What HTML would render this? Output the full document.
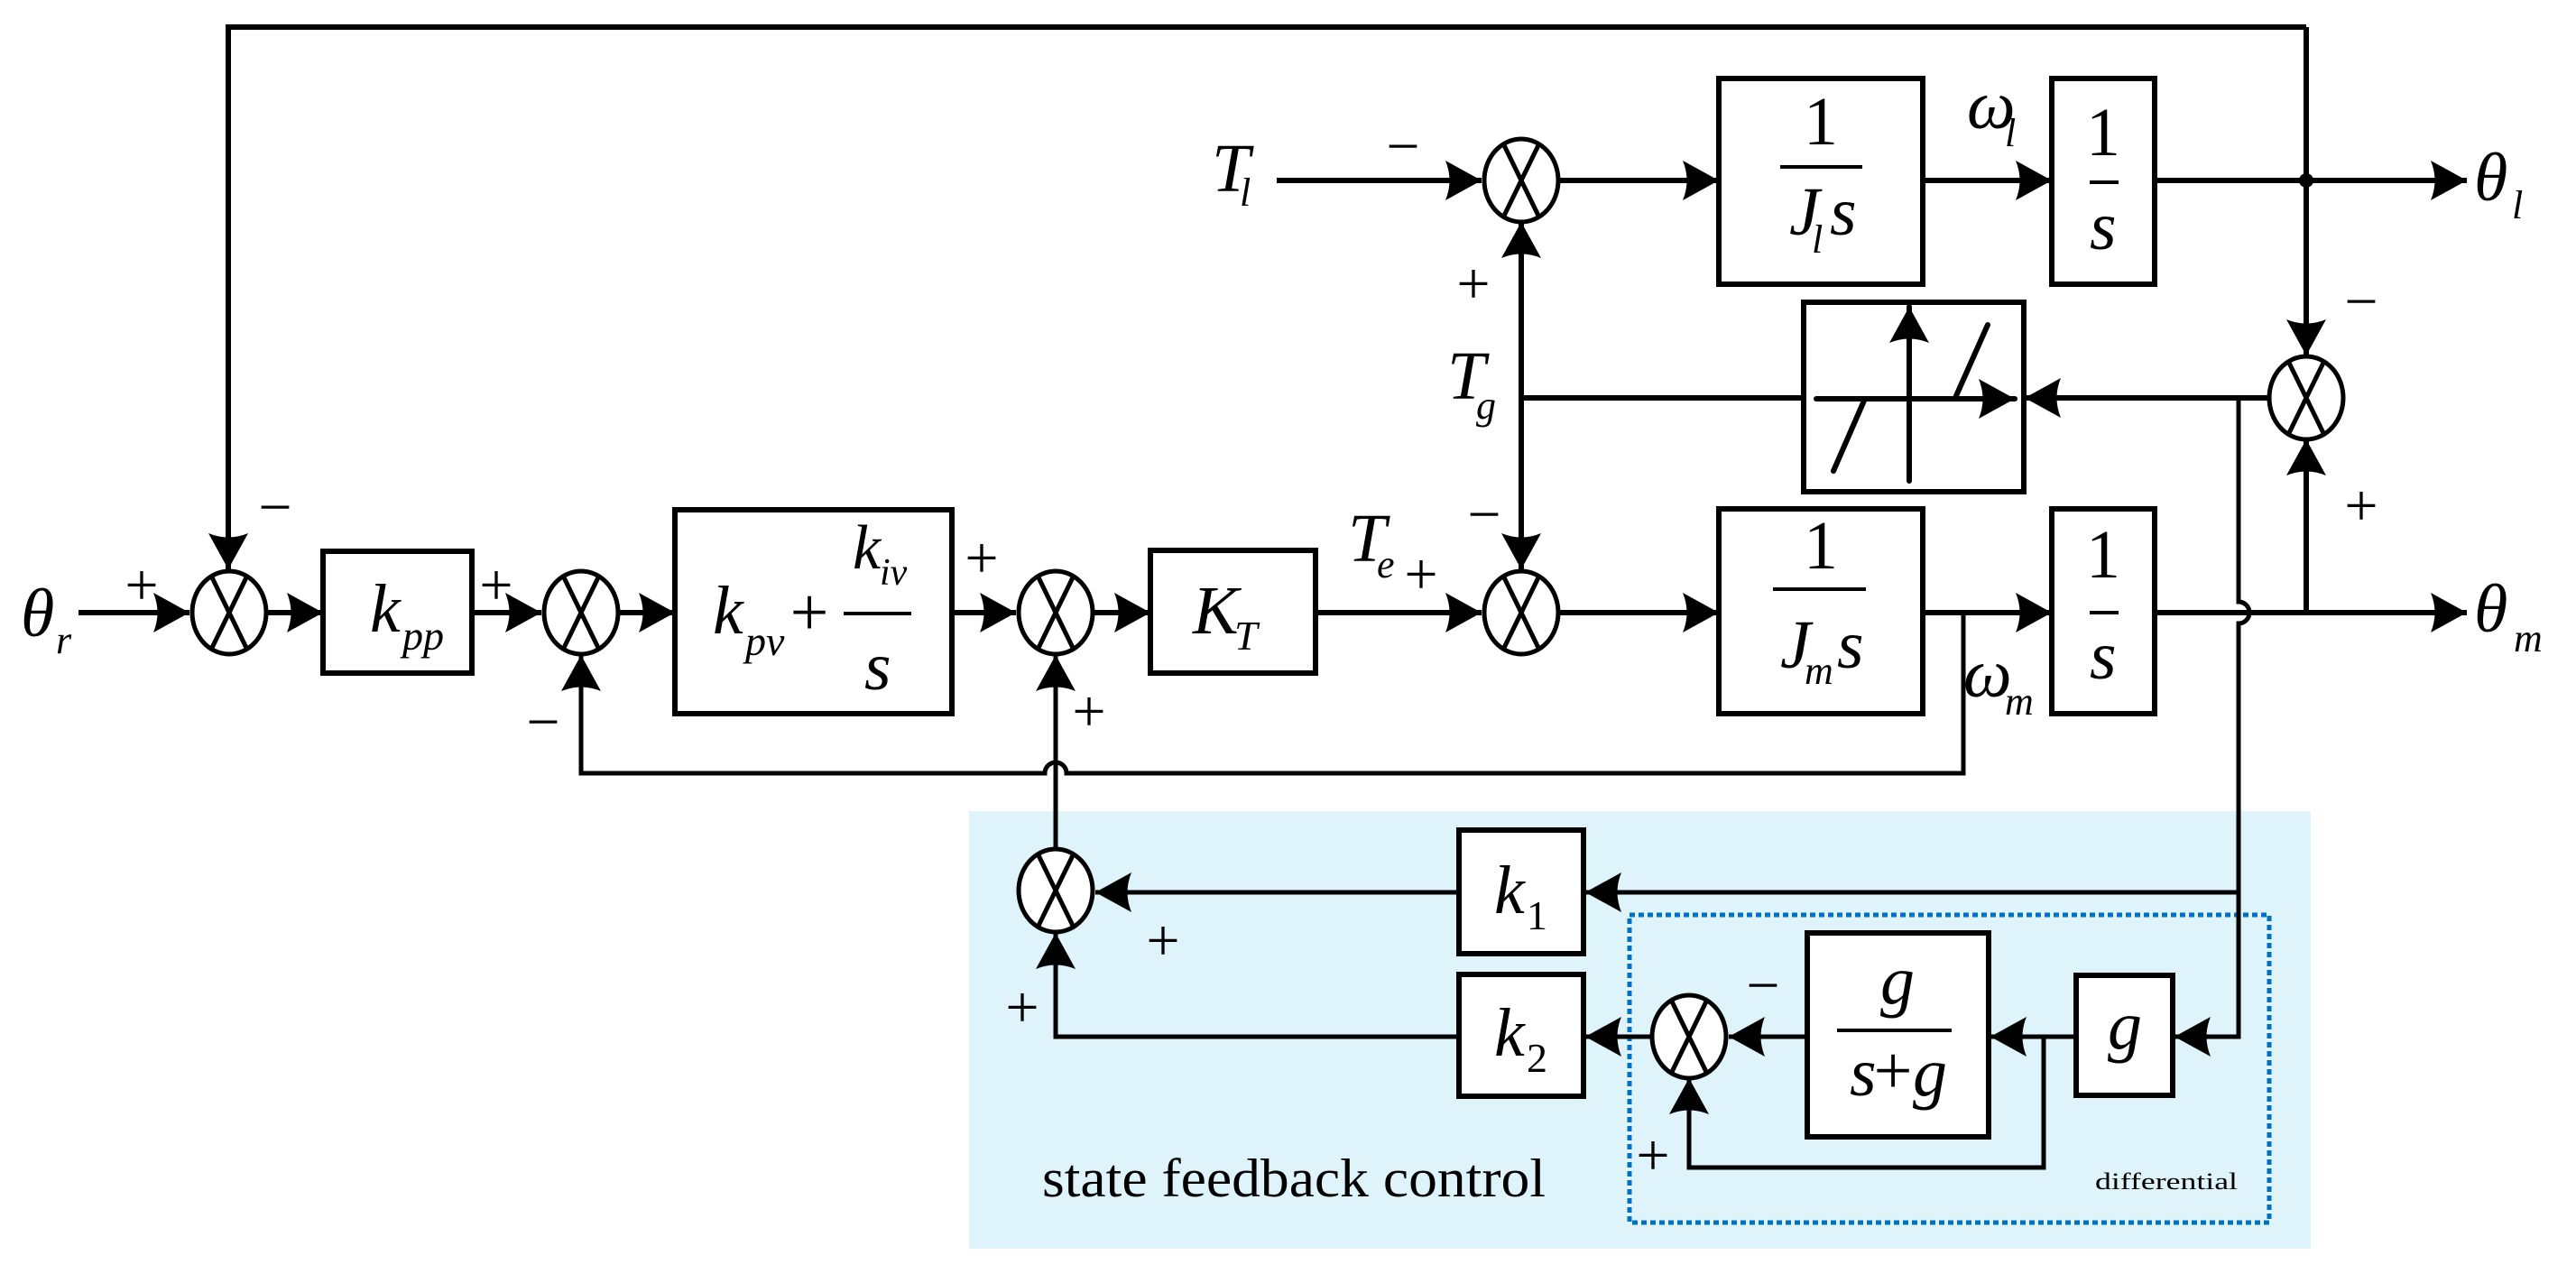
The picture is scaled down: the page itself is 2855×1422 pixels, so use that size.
<!DOCTYPE html>
<html><head><meta charset="utf-8"><style>
html,body{margin:0;padding:0;background:#fff;}
svg{display:block;}
.m{font-family:"Liberation Serif",serif;font-style:italic;fill:#000;}
.r{font-family:"Liberation Serif",serif;fill:#000;}
</style></head><body>
<svg width="2855" height="1422" viewBox="0 0 2855 1422" xmlns="http://www.w3.org/2000/svg">
<defs>
<marker id="a" markerUnits="userSpaceOnUse" markerWidth="46" markerHeight="46" refX="40" refY="22" orient="auto">
<path d="M0,0 L40,22 L0,44 Q9,22 0,0 Z" fill="#000"/>
</marker>
</defs>
<rect x="1074" y="899" width="1487" height="485" fill="#dff3fb"/>
<rect x="1806" y="1014" width="709" height="341" fill="none" stroke="#0070c0" stroke-width="5" stroke-dasharray="6,4"/>

<g fill="none" stroke="#000" stroke-width="6">
<path d="M87,679 H210" marker-end="url(#a)"/>
<path d="M296,679 H358" marker-end="url(#a)"/>
<path d="M523,679 H600" marker-end="url(#a)"/>
<path d="M686,679 H748" marker-end="url(#a)"/>
<path d="M1055,679 H1126" marker-end="url(#a)"/>
<path d="M1212,679 H1275" marker-end="url(#a)"/>
<path d="M1458,679 H1642" marker-end="url(#a)"/>
<path d="M1728,679 H1905" marker-end="url(#a)"/>
<path d="M2131,679 H2274" marker-end="url(#a)"/>
<path d="M2388,679 H2734" marker-end="url(#a)"/>
<path d="M1415,200 H1642" marker-end="url(#a)"/>
<path d="M1728,200 H1905" marker-end="url(#a)"/>
<path d="M2131,200 H2274" marker-end="url(#a)"/>
<path d="M2388,200 H2734" marker-end="url(#a)"/>
<path d="M2556,30 H253 V631" marker-end="url(#a)"/>
<path d="M2556,30 V394" marker-end="url(#a)"/>
<path d="M2556,679 V487" marker-end="url(#a)"/>
<path d="M1686,441 V246" marker-end="url(#a)"/>
<path d="M1686,441 V631" marker-end="url(#a)"/>
<path d="M1686,441 H2000"/>
<path d="M2514,441 H2244" marker-end="url(#a)"/>
</g>
<g fill="none" stroke="#000" stroke-width="5">
<path d="M2176,679 V857 H1182 A12,12 0 0 0 1158,857 H644 V726" marker-end="url(#a)"/>
<path d="M1170,941 V726" marker-end="url(#a)"/>
<path d="M2481,441 V667 A12,12 0 0 1 2481,691 V1149 H2410" marker-end="url(#a)"/>
<path d="M2481,989 H1757" marker-end="url(#a)"/>
<path d="M1617,989 H1214" marker-end="url(#a)"/>
<path d="M1617,1149 H1170 V1034" marker-end="url(#a)"/>
<path d="M2301,1149 H2206" marker-end="url(#a)"/>
<path d="M2265,1149 V1294 H1872 V1195" marker-end="url(#a)"/>
<path d="M2003,1149 H1916" marker-end="url(#a)"/>
<path d="M1830,1149 H1757" marker-end="url(#a)"/>
</g>

<g fill="#fff" stroke="#000" stroke-width="6">
<rect x="358" y="611" width="165" height="135"/>
<rect x="748" y="565" width="307" height="226"/>
<rect x="1275" y="610" width="183" height="136"/>
<rect x="1905" y="87" width="226" height="228"/>
<rect x="2274" y="87" width="114" height="228"/>
<rect x="1905" y="564" width="226" height="227"/>
<rect x="2274" y="564" width="114" height="227"/>
<rect x="1999" y="335" width="244" height="210"/>
<rect x="1617" y="920" width="138" height="137"/>
<rect x="1617" y="1080" width="138" height="135"/>
<rect x="2003" y="1034" width="201" height="226"/>
<rect x="2301" y="1081" width="107" height="133"/>
</g>
<g fill="none" stroke="#000" stroke-width="6" stroke-linecap="round">
<path d="M2013,442 H2233" marker-end="url(#a)"/>
<path d="M2116,533 V340" marker-end="url(#a)"/>
<path d="M2032,522 L2066,444"/>
<path d="M2167,441 L2203,360"/>
</g>
<path d="M1950,441 H1999" stroke="#000" stroke-width="6"/>

<g fill="#fff" stroke="#000" stroke-width="5">
<g transform="translate(254,679)"><ellipse rx="41" ry="46"/><path d="M-20,-41 L20,41 M20,-41 L-20,41"/></g>
<g transform="translate(644,679)"><ellipse rx="41" ry="46"/><path d="M-20,-41 L20,41 M20,-41 L-20,41"/></g>
<g transform="translate(1170,679)"><ellipse rx="41" ry="46"/><path d="M-20,-41 L20,41 M20,-41 L-20,41"/></g>
<g transform="translate(1686,200)"><ellipse rx="41" ry="46"/><path d="M-20,-41 L20,41 M20,-41 L-20,41"/></g>
<g transform="translate(1686,679)"><ellipse rx="41" ry="46"/><path d="M-20,-41 L20,41 M20,-41 L-20,41"/></g>
<g transform="translate(2556,441)"><ellipse rx="41" ry="46"/><path d="M-20,-41 L20,41 M20,-41 L-20,41"/></g>
<g transform="translate(1170,987)"><ellipse rx="41" ry="46"/><path d="M-20,-41 L20,41 M20,-41 L-20,41"/></g>
<g transform="translate(1872,1149)"><ellipse rx="41" ry="46"/><path d="M-20,-41 L20,41 M20,-41 L-20,41"/></g>
</g>
<circle cx="2556" cy="200" r="8" fill="#000"/>

<g stroke="#000" stroke-width="4">
<line x1="935" y1="680" x2="1010" y2="680"/>
<line x1="1973" y1="185" x2="2064" y2="185"/>
<line x1="2316" y1="202" x2="2348" y2="202"/>
<line x1="1965" y1="653" x2="2068" y2="653"/>
<line x1="2316" y1="679" x2="2348" y2="679"/>
<line x1="2036" y1="1142" x2="2163" y2="1142"/>
</g>

<g class="m">
<text x="23" y="705" font-size="76">θ</text><text x="62" y="724" font-size="44">r</text>
<text x="410" y="700" font-size="76">k</text><text x="446" y="720" font-size="46">pp</text>
<text x="790" y="702" font-size="76">k</text><text x="826" y="726" font-size="46">pv</text>
<text x="945" y="630" font-size="70">k</text><text x="975" y="648" font-size="42">iv</text>
<text x="958" y="764" font-size="76">s</text>
<text x="1322" y="702" font-size="76">K</text><text x="1368" y="720" font-size="46">T</text>
<text x="1343" y="212" font-size="76">T</text><text x="1374" y="228" font-size="44">l</text>
<text x="1983" y="260" font-size="76">J</text><text x="2008" y="280" font-size="44">l</text><text x="2028" y="260" font-size="76">s</text>
<text x="2180" y="142" font-size="76">ω</text><text x="2222" y="162" font-size="44">l</text>
<text x="2316" y="276" font-size="76">s</text>
<text x="2742" y="222" font-size="76">θ</text><text x="2784" y="242" font-size="44">l</text>
<text x="1604" y="442" font-size="76">T</text><text x="1636" y="464" font-size="44">g</text>
<text x="1494" y="622" font-size="76">T</text><text x="1526" y="640" font-size="44">e</text>
<text x="1973" y="740" font-size="76">J</text><text x="2000" y="758" font-size="44">m</text><text x="2036" y="740" font-size="76">s</text>
<text x="2316" y="752" font-size="76">s</text>
<text x="2176" y="772" font-size="76">ω</text><text x="2222" y="792" font-size="44">m</text>
<text x="2742" y="700" font-size="76">θ</text><text x="2786" y="722" font-size="44">m</text>
<text x="1656" y="1012" font-size="76">k</text><text x="1692" y="1030" font-size="46" style="font-style:normal">1</text>
<text x="1656" y="1170" font-size="76">k</text><text x="1692" y="1188" font-size="46" style="font-style:normal">2</text>
<text x="2103" y="1112" font-size="76" text-anchor="middle">g</text>
<text x="2050" y="1214" font-size="76">s</text>
<text x="2120" y="1214" font-size="76">g</text>
<text x="2355" y="1162" font-size="76" text-anchor="middle">g</text>
</g>
<g class="r" font-size="76" text-anchor="middle">
<text x="2018" y="160">1</text>
<text x="2331" y="172">1</text>
<text x="2018" y="630">1</text>
<text x="2331" y="640">1</text>
<text x="897" y="704">+</text>
<text x="2098" y="1212">+</text>
</g>
<g class="r" font-size="66" text-anchor="middle">
<text x="157" y="670">+</text>
<text x="305" y="584">−</text>
<text x="550" y="670">+</text>
<text x="602" y="822">−</text>
<text x="1088" y="640">+</text>
<text x="1207" y="810">+</text>
<text x="1555" y="184">−</text>
<text x="1633" y="336">+</text>
<text x="1645" y="592">−</text>
<text x="1575" y="658">+</text>
<text x="2617" y="356">−</text>
<text x="2617" y="582">+</text>
<text x="1289" y="1064">+</text>
<text x="1133" y="1138">+</text>
<text x="1954" y="1114">−</text>
<text x="1832" y="1302">+</text>
</g>
<text class="r" x="1155" y="1326" font-size="60" textLength="558" lengthAdjust="spacingAndGlyphs">state feedback control</text>
<text class="r" x="2322" y="1318" font-size="26" textLength="158" lengthAdjust="spacingAndGlyphs">differential</text>
</svg>
</body></html>
